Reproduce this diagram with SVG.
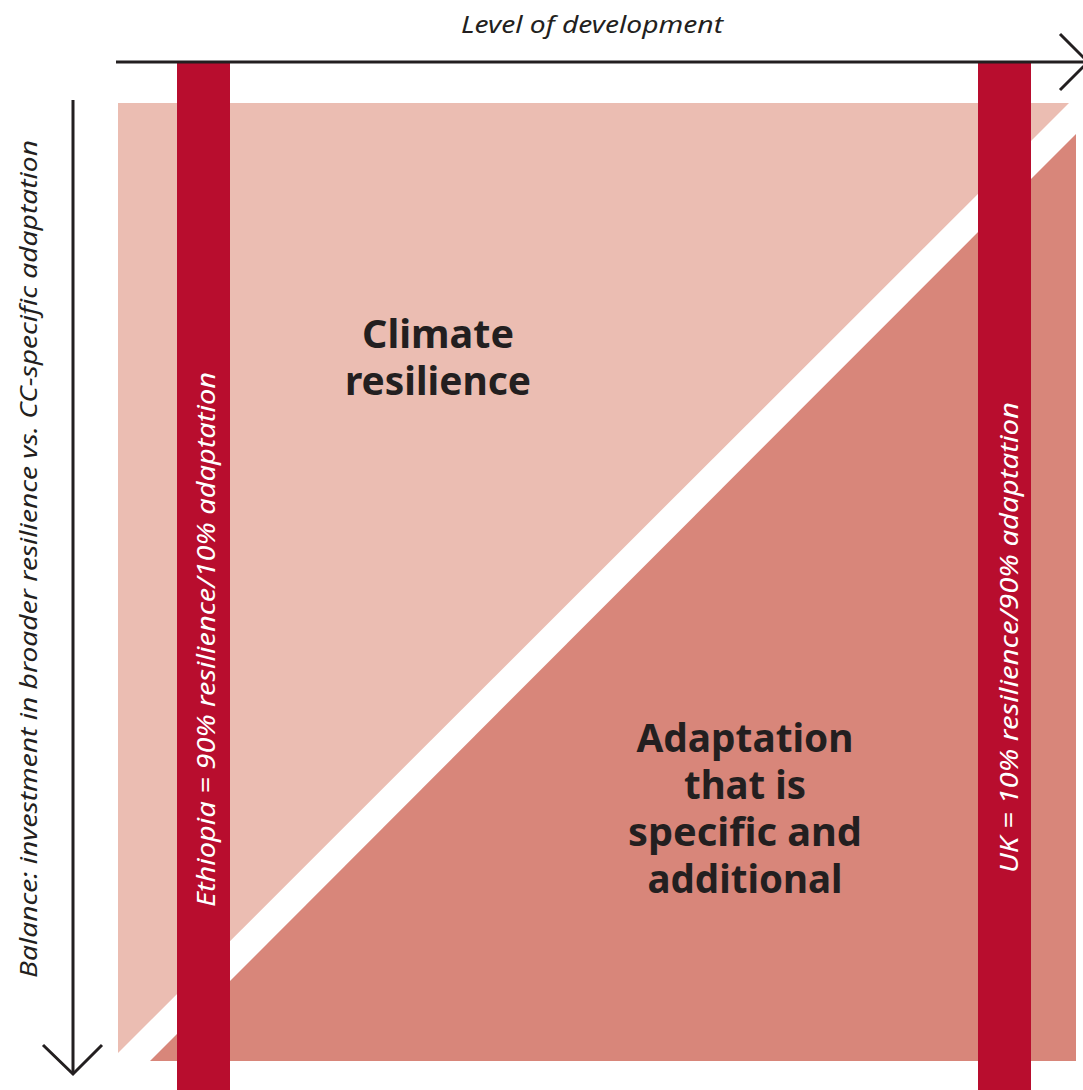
<svg xmlns="http://www.w3.org/2000/svg" width="1083" height="1090" viewBox="0 0 1083 1090">
<style>
.ax{fill:none;stroke:#231F20;stroke-width:3}
.lbl{font-family:"Noto Sans","Open Sans",sans-serif;font-style:italic;font-size:24px;fill:#231F20}
.bar{fill:#B80D2E}
.bt{font-family:"Noto Sans","Open Sans",sans-serif;font-style:italic;font-size:25px;fill:#FFFFFF}
.big{font-family:"Noto Sans","Open Sans",sans-serif;font-weight:bold;font-size:40px;fill:#231F20;text-anchor:middle}
</style>
<rect width="1083" height="1090" fill="#FFFFFF"/>
<g id="climate-resilience">
<polygon points="118,103 1069,103 118,1053" fill="#EBBDB2"/>
<text class="big" x="438" y="348" textLength="152" lengthAdjust="spacingAndGlyphs">Climate</text>
<text class="big" x="438" y="395" textLength="186" lengthAdjust="spacingAndGlyphs">resilience</text>
</g>
<g id="adaptation">
<polygon points="150,1061 1076,1061 1076,134" fill="#D8867A"/>
<text class="big" x="745" y="752" textLength="217" lengthAdjust="spacingAndGlyphs">Adaptation</text>
<text class="big" x="745" y="799" textLength="122" lengthAdjust="spacingAndGlyphs">that is</text>
<text class="big" x="745" y="846" textLength="234" lengthAdjust="spacingAndGlyphs">specific and</text>
<text class="big" x="745" y="893" textLength="195" lengthAdjust="spacingAndGlyphs">additional</text>
</g>
<g id="ethiopia">
<rect class="bar" x="177" y="63" width="53" height="1027"/>
<text class="bt" transform="translate(215,907) rotate(-90)" textLength="535" lengthAdjust="spacingAndGlyphs">Ethiopia = 90% resilience/10% adaptation</text>
</g>
<g id="uk">
<rect class="bar" x="978" y="63" width="53" height="1027"/>
<text class="bt" transform="translate(1018,873) rotate(-90)" textLength="471" lengthAdjust="spacingAndGlyphs">UK = 10% resilience/90% adaptation</text>
</g>
<g id="connectors">
<line class="ax" x1="116" y1="62" x2="1085" y2="62"/>
<polyline class="ax" points="1060,34 1088,62 1060,90"/>
<line class="ax" x1="73" y1="100" x2="73" y2="1072"/>
<polyline class="ax" points="43,1045 73,1074 102,1045"/>
</g>
<g id="axis-labels">
<text class="lbl" x="592" y="33" text-anchor="middle" textLength="262" lengthAdjust="spacingAndGlyphs">Level of development</text>
<text class="lbl" transform="translate(37,978) rotate(-90)" textLength="838" lengthAdjust="spacingAndGlyphs">Balance: investment in broader resilience vs. CC-specific adaptation</text>
</g>
</svg>
